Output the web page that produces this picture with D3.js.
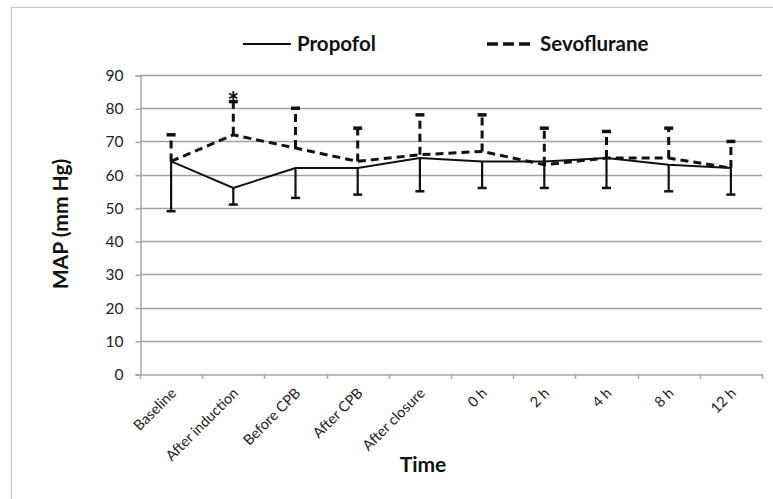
<!DOCTYPE html>
<html>
<head>
<meta charset="utf-8">
<script src="https://cdn.jsdelivr.net/npm/d3@7/dist/d3.min.js"></script>
<style>
  body { margin: 0; background: #fff; }
  svg { display: block; font-family: Lato, "Open Sans", sans-serif; }
</style>
</head>
<body>
<div id="chart"></div>
<script>
// categories and series (MAP, mm Hg)
var categories = ["Baseline", "After induction", "Before CPB", "After CPB", "After closure",
                  "0 h", "2 h", "4 h", "8 h", "12 h"];
var propofolMean  = [64, 56, 62, 62, 65, 64, 64, 65, 63, 62];
var propofolLower = [49, 51, 53, 54, 55, 56, 56, 56, 55, 54];
var sevoMean      = [64, 72, 68, 64, 66, 67, 63, 65, 65, 62];
var sevoUpper     = [72, 82, 80, 74, 78, 78, 74, 73, 74, 70];
var yTicks = [0, 10, 20, 30, 40, 50, 60, 70, 80, 90];
var marked = ["After induction"];   // significant difference (*)

var W = 773, H = 499;
var plotL = 140, plotR = 762, plotT = 75, plotB = 374;

var svg = d3.select("#chart").append("svg")
    .attr("width", W)
    .attr("height", H);

// chart frame
svg.append("rect")
  .attr("x", 11.5).attr("y", 7.5)
  .attr("width", W + 20).attr("height", H + 20)
  .style("fill", "none")
  .style("stroke", "#c4c4c4");

var x = d3.scaleBand().domain(categories).range([plotL, plotR]);
var y = d3.scaleLinear().domain([0, 90]).range([plotB, plotT]);
var cx = function(d) { return x(d) + x.bandwidth() / 2; };

/* gridlines */
svg.selectAll(".grid")
  .data(yTicks.filter(function(d) { return d > 0; }))
  .enter().append("line")
    .attr("class", "grid")
    .attr("x1", plotL).attr("x2", plotR)
    .attr("y1", function(d) { return Math.round(y(d)) + 0.5; })
    .attr("y2", function(d) { return Math.round(y(d)) + 0.5; })
    .style("stroke", "#a3a3a3")
    .style("stroke-width", 1.4);

/* Y-axis */
var yAxis = svg.append("g")
  .attr("transform", "translate(" + (plotL + 0.5) + ",0.5)")
  .call(d3.axisLeft(y).tickValues(yTicks).tickSize(5).tickPadding(12));
yAxis.select(".domain").style("stroke", "#a3a3a3").style("stroke-width", 1.4);
yAxis.selectAll(".tick line").style("stroke", "#a3a3a3").style("stroke-width", 1.4);
yAxis.selectAll("text")
  .style("font-family", "Lato, sans-serif")
  .style("font-size", "15.5px")
  .style("fill", "#222");

/* X-axis */
var xAxis = svg.append("g")
  .attr("transform", "translate(0," + (Math.round(plotB) + 0.5) + ")")
  .call(d3.axisBottom(x).tickSize(0).tickFormat(""));
xAxis.select(".domain").style("stroke", "#a3a3a3").style("stroke-width", 1.4);

var bounds = categories.map(function(d) { return x(d); }).concat([plotR]);
svg.selectAll(".xtick")
  .data(bounds)
  .enter().append("line")
    .attr("class", "xtick")
    .attr("x1", function(d) { return Math.round(d) + 0.5; })
    .attr("x2", function(d) { return Math.round(d) + 0.5; })
    .attr("y1", plotB).attr("y2", plotB + 5)
    .style("stroke", "#a3a3a3")
    .style("stroke-width", 1.4);

svg.selectAll(".xlabel")
  .data(categories)
  .enter().append("text")
    .attr("class", "xlabel")
    .attr("transform", function(d) {
      return "translate(" + (cx(d) + 6) + "," + (plotB + 20) + ") rotate(-45)";
    })
    .attr("text-anchor", "end")
    .style("font-size", "14.5px")
    .style("fill", "#222")
    .text(function(d) { return d; });

/* axis titles */
svg.append("text")
  .attr("x", 423).attr("y", 472)
  .attr("text-anchor", "middle")
  .style("font-size", "21px")
  .style("font-weight", "bold")
  .style("fill", "#111")
  .text("Time");

svg.append("text")
  .attr("transform", "translate(68,224) rotate(-90)")
  .attr("text-anchor", "middle")
  .style("font-size", "21px")
  .style("font-weight", "bold")
  .style("fill", "#111")
  .text("MAP (mm Hg)");

/* error bars */
var capW = 9;
function errorBars(cls, mean, end, dash) {
  var g = svg.append("g").attr("class", cls);
  g.selectAll("line.bar")
    .data(categories)
    .enter().append("line")
      .attr("class", "bar")
      .attr("x1", cx).attr("x2", cx)
      .attr("y1", function(d, i) { return y(mean[i]); })
      .attr("y2", function(d, i) { return y(end[i]); })
      .style("stroke", "#111")
      .style("stroke-width", dash ? 3 : 2.2)
      .style("stroke-dasharray", dash ? "8,5" : null);
  g.selectAll("line.cap")
    .data(categories)
    .enter().append("line")
      .attr("class", "cap")
      .attr("x1", function(d) { return cx(d) - capW / 2; })
      .attr("x2", function(d) { return cx(d) + capW / 2; })
      .attr("y1", function(d, i) { return y(end[i]); })
      .attr("y2", function(d, i) { return y(end[i]); })
      .style("stroke", "#111")
      .style("stroke-width", dash ? 3.5 : 2.5);
}
errorBars("sevo-err", sevoMean, sevoUpper, true);
errorBars("prop-err", propofolMean, propofolLower, false);

/* series lines */
var line = d3.line()
  .x(function(d) { return cx(d.cat); })
  .y(function(d) { return y(d.v); });

svg.append("path")
  .datum(categories.map(function(c, i) { return {cat: c, v: propofolMean[i]}; }))
  .attr("d", line)
  .style("fill", "none")
  .style("stroke", "#111")
  .style("stroke-width", 2);

svg.append("path")
  .datum(categories.map(function(c, i) { return {cat: c, v: sevoMean[i]}; }))
  .attr("d", line)
  .style("fill", "none")
  .style("stroke", "#111")
  .style("stroke-width", 3)
  .style("stroke-dasharray", "8,5");

/* significance marker */
svg.selectAll(".star")
  .data(marked)
  .enter().append("text")
    .attr("class", "star")
    .attr("x", cx)
    .attr("y", function(d) { return y(sevoUpper[categories.indexOf(d)]) + 10; })
    .attr("text-anchor", "middle")
    .style("font-size", "28px")
    .style("font-weight", "bold")
    .style("fill", "#111")
    .text("*");

/* legend */
var legend = [
  {name: "Propofol", x: 243, len: 48, dash: null, w: 2},
  {name: "Sevoflurane", x: 487, len: 43, dash: "11,5", w: 3.5}
];
var lg = svg.selectAll(".legend")
  .data(legend)
  .enter().append("g")
    .attr("class", "legend")
    .attr("transform", function(d) { return "translate(" + d.x + ",44)"; });
lg.append("line")
  .attr("x1", 0).attr("x2", function(d) { return d.len; })
  .style("stroke", "#111")
  .style("stroke-width", function(d) { return d.w; })
  .style("stroke-dasharray", function(d) { return d.dash; });
lg.append("text")
  .attr("x", function(d) { return d.len + 6 + (d.dash ? 4 : 0); })
  .attr("y", 7)
  .style("font-size", "20.5px")
  .style("font-weight", "bold")
  .style("fill", "#111")
  .text(function(d) { return d.name; });
</script>
</body>
</html>
